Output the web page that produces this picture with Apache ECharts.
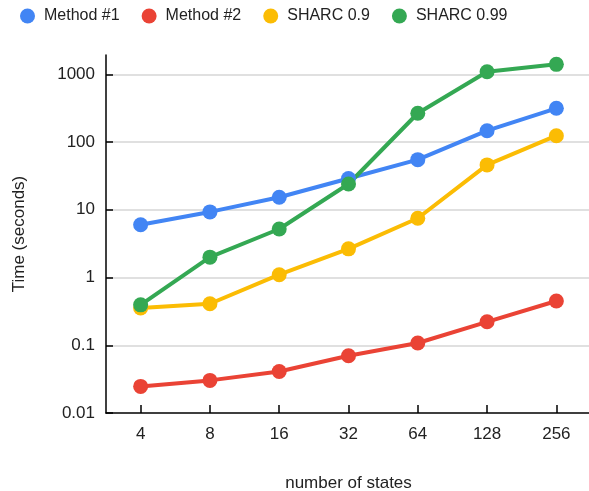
<!DOCTYPE html>
<html lang="en">
<head>
    <meta charset="UTF-8">
    <title>Time vs number of states</title>
    <script src="https://cdn.jsdelivr.net/npm/echarts@6/dist/echarts.min.js"></script>
    <style>
        html, body { margin: 0; padding: 0; background: #fff; }
    </style>
</head>
<body>
    <div id="main" style="width: 589px;height:491px;"></div>
    <script type="text/javascript">
        // x categories (number of states)
        var states = ['4', '8', '16', '32', '64', '128', '256'];
        // run times in seconds
        var method1 = [6.0, 9.3, 15.3, 29, 55, 147, 315];
        var method2 = [0.0247, 0.0303, 0.041, 0.070, 0.108, 0.222, 0.45];
        var sharc09 = [0.354, 0.41, 1.1, 2.65, 7.5, 46, 124];
        var sharc099 = [0.395, 2.0, 5.2, 24, 266, 1092, 1403];

        var names = ['Method #1', 'Method #2', 'SHARC 0.9', 'SHARC 0.99'];
        var colors = ['#4285F4', '#EA4335', '#FBBC04', '#34A853'];
        var allData = [method1, method2, sharc09, sharc099];

        var font = 'Arial, "Liberation Sans", sans-serif';

        var series = [];
        for (var i = 0; i < names.length; i++) {
            series.push({
                name: names[i],
                type: 'line',
                data: allData[i],
                symbol: 'circle',
                symbolSize: 15,
                lineStyle: { width: 4, color: colors[i] },
                itemStyle: { color: colors[i] },
                emphasis: { disabled: true },
                animation: false
            });
        }

        var myChart = echarts.init(document.getElementById('main'));
        var option = {
            color: colors,
            legend: {
                left: 15,
                top: 3,
                itemWidth: 15,
                itemHeight: 15,
                itemGap: 22,
                icon: 'circle',
                textStyle: { fontSize: 16, color: '#222', fontFamily: font, padding: [0, 0, 0, 4] },
                data: names
            },
            grid: {
                left: 106,
                top: 55,
                width: 485,
                height: 358,
                outerBoundsMode: 'none'
            },
            xAxis: {
                type: 'category',
                data: states,
                name: 'number of states',
                nameLocation: 'middle',
                nameGap: 62,
                nameTextStyle: { fontSize: 17, color: '#222', fontFamily: font },
                axisLine: { lineStyle: { color: '#000', width: 1.5 } },
                axisTick: { show: true, inside: true, length: 8, alignWithLabel: true, lineStyle: { color: '#000', width: 1.5 } },
                axisLabel: { fontSize: 17, color: '#222', fontFamily: font, margin: 13 },
                splitLine: { show: false }
            },
            yAxis: {
                type: 'log',
                logBase: 10,
                min: 0.01,
                max: 1927,
                name: 'Time (seconds)',
                nameLocation: 'middle',
                nameRotate: 90,
                nameGap: 78,
                nameTextStyle: { fontSize: 17, color: '#222', fontFamily: font },
                axisLine: { show: true, lineStyle: { color: '#000', width: 1.5 } },
                axisTick: { show: true, inside: true, length: 7, lineStyle: { color: '#000', width: 1.5 } },
                axisLabel: {
                    fontSize: 17, color: '#222', fontFamily: font, margin: 11,
                    showMaxLabel: false,
                    formatter: function (v) { return String(+v.toPrecision(3)); }
                },
                splitLine: {
                    show: true, showMinLine: false, showMaxLine: false,
                    lineStyle: { color: '#d6d6d6', width: 1.5 }
                }
            },
            series: series
        };
        myChart.setOption(option);
    </script>
</body>
</html>
